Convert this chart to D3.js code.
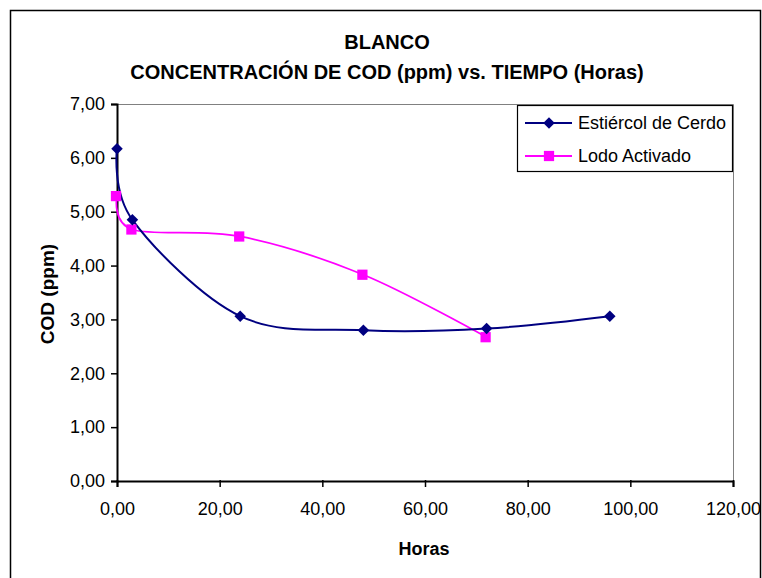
<!DOCTYPE html>
<html>
<head>
<meta charset="utf-8">
<script src="https://cdn.jsdelivr.net/npm/d3@7"></script>
<style>
  body { margin: 0; background: #fff; }
  text { font-family: "Liberation Sans", Arial, sans-serif; }
</style>
</head>
<body>
<svg width="762" height="578"></svg>
<script>
// data
const horas = [0, 3, 24, 48, 72, 96];
const cerdo = [6.17, 4.85, 3.06, 2.80, 2.83, 3.06];
const lodoHoras = [0, 3, 24, 48, 72];
const lodo = [5.29, 4.67, 4.54, 3.83, 2.67];
const xTicks = [0, 20, 40, 60, 80, 100, 120];
const yTicks = [0, 1, 2, 3, 4, 5, 6, 7];

const svg = d3.select("svg");
const plot = { left: 117, right: 733, top: 104, bottom: 481 };

// outer chart frame
svg.append("rect")
    .attr("x", 10.5).attr("y", 10.5)
    .attr("width", 750).attr("height", 580)
    .attr("fill", "#fff").attr("stroke", "#000").attr("stroke-width", 1.5);

const x = d3.scaleLinear().domain([0, 120]).range([plot.left, plot.right]);
const y = d3.scaleLinear().domain([0, 7]).range([plot.bottom, plot.top]);
const fmt = d => d3.format(".2f")(d).replace(".", ",");

// gray plot border (top + right)
svg.append("path")
    .attr("d", `M${plot.left},${plot.top + 0.5}H${plot.right + 0.5}V${plot.bottom}`)
    .attr("fill", "none").attr("stroke", "#808080").attr("stroke-width", 1);

// axes
const xAxis = svg.append("g")
    .attr("transform", `translate(0,${plot.bottom})`)
    .call(d3.axisBottom(x).tickValues(xTicks).tickFormat(fmt).tickSizeOuter(0).tickSize(6).tickPadding(15));
const yAxis = svg.append("g")
    .attr("transform", `translate(${plot.left},0)`)
    .call(d3.axisLeft(y).tickValues(yTicks).tickFormat(fmt).tickSizeOuter(0).tickSize(6).tickPadding(6));
[xAxis, yAxis].forEach(g => {
    g.select(".domain").attr("stroke", "#000").attr("stroke-width", 2);
    g.selectAll(".tick line").attr("stroke", "#000").attr("stroke-width", 1.5);
    g.selectAll("text").attr("fill", "#000").style("font-size", "18px")
        .style("font-family", "'Liberation Sans', Arial, sans-serif");
});
xAxis.selectAll(".tick line").attr("y1", -1);

// series
const line = d3.line().x(d => x(d[0])).y(d => y(d[1])).curve(d3.curveCatmullRom.alpha(0));
const cerdoPts = horas.map((h, i) => [h, cerdo[i]]);
const lodoPts = lodoHoras.map((h, i) => [h, lodo[i]]);

svg.append("path").datum(lodoPts).attr("d", line)
    .attr("fill", "none").attr("stroke", "#ff00ff").attr("stroke-width", 1.8);
svg.append("path").datum(cerdoPts).attr("d", line)
    .attr("fill", "none").attr("stroke", "#000080").attr("stroke-width", 2);

const diamond = d3.symbol().type(d3.symbolDiamond2).size(85);
const square = d3.symbol().type(d3.symbolSquare).size(105);

svg.append("g").selectAll("path").data(lodoPts).join("path")
    .attr("transform", d => `translate(${x(d[0]) - 1},${y(d[1])})`)
    .attr("d", square).attr("fill", "#ff00ff");
svg.append("g").selectAll("path").data(cerdoPts).join("path")
    .attr("transform", d => `translate(${x(d[0])},${y(d[1])})`)
    .attr("d", diamond).attr("fill", "#000080");

// titles
svg.append("text").attr("x", 387).attr("y", 49).attr("text-anchor", "middle")
    .style("font-size", "20px").style("font-weight", "bold").text("BLANCO");
svg.append("text").attr("x", 387).attr("y", 79).attr("text-anchor", "middle")
    .style("font-size", "20px").style("font-weight", "bold")
    .text("CONCENTRACIÓN DE COD (ppm) vs. TIEMPO (Horas)");
svg.append("text").attr("x", 424).attr("y", 555).attr("text-anchor", "middle")
    .style("font-size", "18px").style("font-weight", "bold").text("Horas");
svg.append("text").attr("transform", "translate(54,294) rotate(-90)").attr("text-anchor", "middle")
    .style("font-size", "19px").style("font-weight", "bold").text("COD (ppm)");

// legend
const legend = svg.append("g").attr("transform", "translate(517,105)");
legend.append("rect").attr("x", 0.5).attr("y", 0.5).attr("width", 215).attr("height", 66)
    .attr("fill", "#fff").attr("stroke", "#000").attr("stroke-width", 1.2);
const items = [
    { name: "Estiércol de Cerdo", color: "#000080", sym: diamond, yy: 18 },
    { name: "Lodo Activado", color: "#ff00ff", sym: square, yy: 51 }
];
items.forEach(it => {
    legend.append("line").attr("x1", 8).attr("x2", 55).attr("y1", it.yy).attr("y2", it.yy)
        .attr("stroke", it.color).attr("stroke-width", 1.8);
    legend.append("path").attr("transform", `translate(32,${it.yy})`).attr("d", it.sym).attr("fill", it.color);
    legend.append("text").attr("x", 61).attr("y", it.yy + 6).style("font-size", "18px").text(it.name);
});
</script>
</body>
</html>
